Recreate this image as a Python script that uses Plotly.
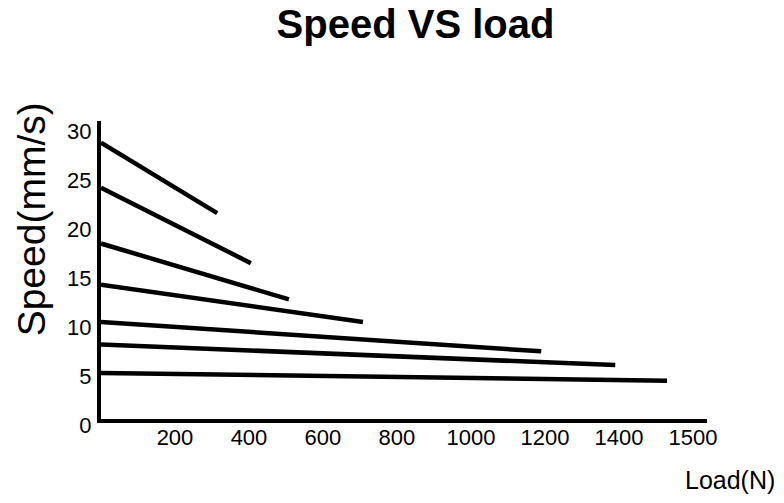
import plotly.graph_objects as go

# Load axis positions (N) and speeds (mm/s) for each curve: start and end points
load_start = [0, 0, 0, 0, 0, 0, 0]
load_end = [314, 405, 508, 708, 1190, 1390, 1530]
speed_start = [28.2, 23.6, 17.9, 13.7, 9.9, 7.6, 4.7]
speed_end = [21.0, 15.9, 12.2, 9.9, 6.9, 5.5, 3.9]

x_tick_vals = [200, 400, 600, 800, 1000, 1200, 1400, 1600]
x_tick_labels = ["200", "400", "600", "800", "1000", "1200", "1400", "1500"]
y_tick_vals = [0, 5, 10, 15, 20, 25, 30]

fig = go.Figure()
for xs, xe, ys, ye in zip(load_start, load_end, speed_start, speed_end):
    fig.add_trace(go.Scatter(x=[xs, xe], y=[ys, ye], mode="lines",
                             line=dict(color="black", width=4.5),
                             showlegend=False, hoverinfo="skip"))

font = "Liberation Sans, Arial, sans-serif"
fig.update_layout(
    width=784, height=503,
    margin=dict(l=101, r=77, t=121, b=84),
    paper_bgcolor="white", plot_bgcolor="white",
    font=dict(family=font, color="black"),
    title=dict(text="<b>Speed VS load</b>", x=0.53, xanchor="center",
               y=0.952, yanchor="middle", font=dict(size=40, family=font, color="black")),
    xaxis=dict(range=[0, 1638], showgrid=False, zeroline=False,
               showline=True, linecolor="black", linewidth=4,
               tickmode="array", tickvals=x_tick_vals, ticktext=x_tick_labels,
               ticks="", ticklabelstandoff=-4,
               tickfont=dict(size=22, family=font, color="black")),
    yaxis=dict(range=[0, 30.4], showgrid=False, zeroline=False,
               showline=True, linecolor="black", linewidth=4,
               tickmode="array", tickvals=y_tick_vals,
               ticks="", ticklabelshift=6, ticklabelstandoff=1,
               tickfont=dict(size=22, family=font, color="black")),
    annotations=[
        dict(text="Speed(mm/s)", xref="paper", yref="paper", x=0, y=0.67,
             xshift=-70, textangle=-90, showarrow=False,
             font=dict(size=39, family=font, color="black"),
             xanchor="center", yanchor="middle"),
        dict(text="Load(N)", xref="paper", yref="paper", x=1, y=0,
             xshift=23, yshift=-61, showarrow=False,
             font=dict(size=25, family=font, color="black"),
             xanchor="center", yanchor="middle"),
    ],
)

fig.write_html("out.html")
